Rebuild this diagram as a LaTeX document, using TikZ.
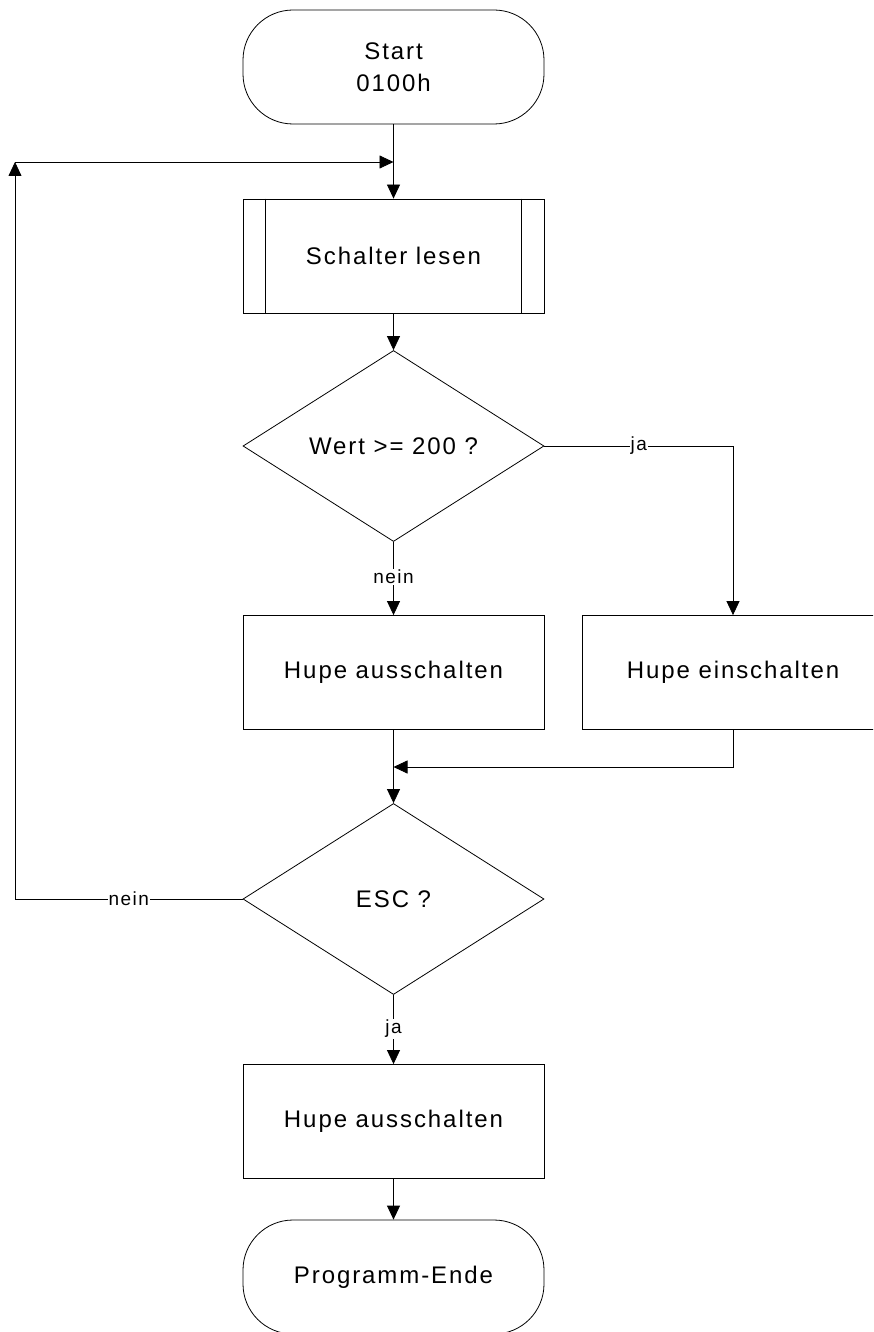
\documentclass[tikz,border=0pt]{standalone}
\usepackage{fontspec}
\setmainfont{Liberation Sans}[LetterSpace=8]
\usetikzlibrary{shapes.geometric,arrows.meta,calc}
\begin{document}
\begin{tikzpicture}[x=1pt,y=-1pt,
  line width=0.8pt,
  every node/.style={inner sep=0pt, font=\fontsize{24}{32}\selectfont},
  term/.style={draw, rectangle, rounded corners=50pt, minimum width=301pt, minimum height=114pt, align=center},
  proc/.style={draw, rectangle, minimum width=301pt, minimum height=114pt},
  decide/.style={draw, diamond, minimum width=301pt, minimum height=191pt},
  lbl/.style={fill=white, inner sep=1pt, font=\fontsize{19}{22}\selectfont},
  arr/.style={-{Triangle[length=14pt,width=13pt]}}
]
\clip (0,0) rectangle (873,1332);
\node[term] (start) at (393.5,67) {Start\\0100h};
\node[proc] (read) at (393.5,256) {Schalter lesen};
\draw ($(read.north west)+(23,0)$) -- ($(read.south west)+(23,0)$);
\draw ($(read.north east)+(-23,0)$) -- ($(read.south east)+(-23,0)$);
\node[decide] (d1) at (393.5,446) {Wert >= 200 ?};
\node[proc] (off1) at (393.5,672.5) {Hupe ausschalten};
\node[proc] (on) at (733,672.5) {Hupe einschalten};
\node[decide] (d2) at (393.5,899) {ESC ?};
\node[proc] (off2) at (393.5,1121.5) {Hupe ausschalten};
\node[term] (end) at (393.5,1277) {Programm-Ende};
\coordinate (join) at (393.5,162);
\coordinate (loopc) at (15,162);
\coordinate (merge) at (393.5,767);
\draw[arr] (start.south) -- (read.north);
\draw[arr] (read.south) -- (d1.north);
\draw[arr] (d1.east) -| node[lbl, pos=0.25] {ja} (on.north);
\draw[arr] (d1.south) -- node[lbl, pos=0.48] {nein} (off1.north);
\draw[arr] (on.south) |- (merge);
\draw[arr] (off1.south) -- (d2.north);
\draw[arr] (d2.west) -| node[lbl, pos=0.25] {nein} (loopc);
\draw[arr] (loopc) -- (join);
\draw[arr] (d2.south) -- node[lbl, pos=0.49] {ja} (off2.north);
\draw[arr] (off2.south) -- (end.north);
\end{tikzpicture}
\end{document}
